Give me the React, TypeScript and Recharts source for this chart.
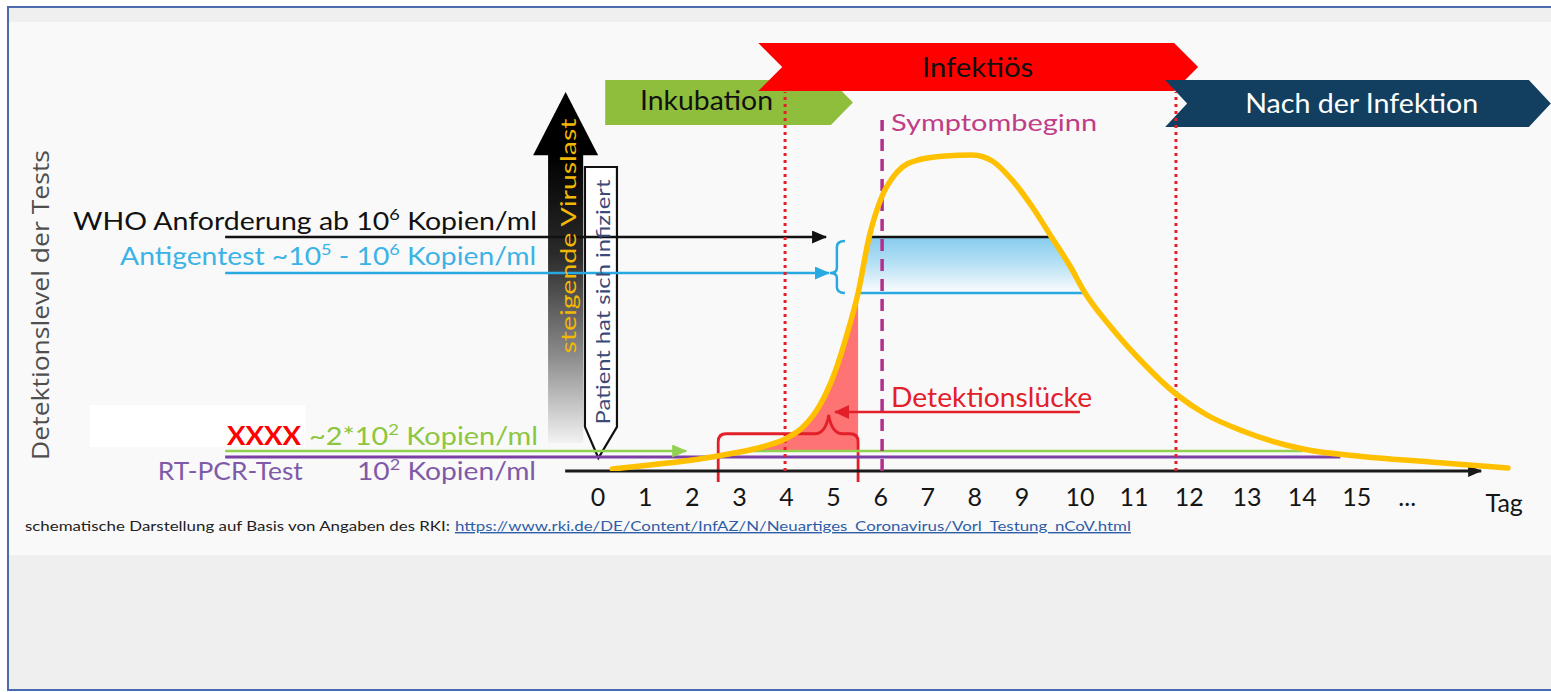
import {
  ComposedChart,
  Line,
  Area,
  XAxis,
  YAxis,
  ReferenceLine,
  ReferenceArea,
  ReferenceDot,
} from "recharts";

// schematic day axis: days 0-9 are evenly spaced, after that the picture stretches
const tickLabels = ["0", "1", "2", "3", "4", "5", "6", "7", "8", "9", "10", "11", "12", "13", "14", "15", "...", "Tag"];
const tickPos = [0, 1, 2, 3, 4, 5, 6, 7, 8, 9, 10.23, 11.38, 12.55, 13.78, 14.95, 16.11, 17.18, 19.24];

// viral load curve (arbitrary units)
const curvePos = [0.3, 1.1, 2.01, 2.54, 3.01, 3.48, 3.97, 4.35, 4.71, 5.03, 5.28, 5.52, 5.75, 6.03, 6.35, 6.79, 7.37, 7.94, 8.37, 8.79, 9.22, 9.64, 10.02, 10.34, 10.87, 11.51, 12.27, 12.89, 13.74, 14.97, 16.12, 17.67, 19.32];
const viralLoad = [0.5, 1.5, 2.75, 3.75, 4.75, 6, 8, 11, 16.5, 24.75, 34, 44.5, 58.25, 68.75, 74.75, 77.75, 78.75, 79, 77.5, 72.75, 66, 58.25, 51.25, 44.5, 36.25, 27.75, 19.25, 14.25, 9.75, 5.5, 3.75, 2.25, 0.75];

// detection levels
const whoLevel = 58.5;
const antigenArrowLevel = 49.5;
const antigenLow = 44.5;
const greenLevel = 5;
const purpleLevel = 3.5;

// detection gap & antigen band
const gapStart = 3.01;
const gapEnd = 5.52;
const bandPos = [5.52, 5.75, 9.64, 10.34];

// phases
const infectiousStart = 3.97;
const symptomOnset = 6.03;
const infectiousEnd = 12.27;

const curve = curvePos.map((pos, i) => ({
  pos,
  load: viralLoad[i],
  gap: pos >= gapStart && pos <= gapEnd ? viralLoad[i] : null,
}));

const band = bandPos.map((pos, i) => ({
  pos,
  band: [antigenLow, i === 0 || i === bandPos.length - 1 ? antigenLow : whoLevel],
}));

const FONT = "Lato, 'Open Sans', sans-serif";

const DayTick = (props: any) => {
  const { x, y, payload } = props;
  const i = tickPos.indexOf(payload.value);
  const label = tickLabels[i];
  const isTag = label === "Tag";
  return (
    <text x={x} y={y + (isTag ? 41 : 35)} textAnchor="middle" fontFamily={FONT} fontSize={25} fill="#151515">
      {label}
    </text>
  );
};

const chevron = (fill: string, notch: number, tip: number) => (p: any) => {
  const { x, y, width: w, height: h } = p;
  const m = y + h / 2;
  const pts = [
    [x, y],
    [x + w - tip, y],
    [x + w, m],
    [x + w - tip, y + h],
    [x, y + h],
    [x + notch, m],
  ];
  return <polygon points={pts.map((q) => q.join(",")).join(" ")} fill={fill} />;
};

const viralArrow = (p: any) => {
  const { x, y, width: w, height: h } = p;
  const headH = h * 0.18;
  const sl = x + w * 0.23;
  const sr = x + w * 0.77;
  return (
    <g>
      <rect x={sl} y={y + headH - 1} width={sr - sl} height={h - headH + 1} fill="url(#shaftGrad)" />
      <polygon points={`${x + w / 2},${y} ${x + w},${y + headH} ${x},${y + headH}`} fill="#000" />
    </g>
  );
};

const pin = (p: any) => {
  const { x, y, width: w, height: h } = p;
  const body = y + h * 0.893;
  const tipX = x + w * 0.42;
  return (
    <path
      d={`M${x},${y} H${x + w} V${body} L${tipX},${y + h} L${x},${body} Z`}
      fill="#fff"
      stroke="#111"
      strokeWidth={2.2}
    />
  );
};

const whiteBox = (p: any) => <rect x={p.x} y={p.y} width={p.width} height={p.height} fill="#fff" />;

const redBrace = (p: any) => {
  const { x, y, width: w, height: h } = p;
  const hy = y + h * 0.28;
  const px = x + w * 0.79;
  const r = 8;
  const d = `M${x},${y + h} V${hy + r} Q${x},${hy} ${x + r},${hy} H${px - 14} Q${px - 3},${hy} ${px},${y} Q${px + 3},${hy} ${px + 14},${hy} H${x + w - r} Q${x + w},${hy} ${x + w},${hy + r} V${y + h}`;
  return <path d={d} fill="none" stroke="#e3202a" strokeWidth={2.8} />;
};

const blueBracket = (p: any) => {
  const { x, y, width: w, height: h } = p;
  const my = y + h * 0.615;
  const xv = x + w * 0.47;
  const d = `M${x + w},${y} Q${xv},${y} ${xv},${y + 6} V${my - 5} Q${xv},${my} ${x},${my} Q${xv},${my} ${xv},${my + 5} V${y + h - 6} Q${xv},${y + h} ${x + w},${y + h}`;
  return <path d={d} fill="none" stroke="#29a9e1" strokeWidth={2.5} />;
};

const seg = (
  key: string,
  x1: number,
  x2: number,
  y1: number,
  y2: number,
  stroke: string,
  width: number,
  dash?: string,
  marker?: string
) => (
  <ReferenceLine
    key={key}
    segment={[{ x: x1, y: y1 }, { x: x2, y: y2 }]}
    ifOverflow="visible"
    shape={(p: any) => (
      <line
        x1={p.x1}
        y1={p.y1}
        x2={p.x2}
        y2={p.y2}
        stroke={stroke}
        strokeWidth={width}
        strokeDasharray={dash}
        markerEnd={marker ? `url(#${marker})` : undefined}
      />
    )}
  />
);

const note = (key: string, x: number, y: number, draw: (cx: number, cy: number) => any) => (
  <ReferenceDot
    key={key}
    x={x}
    y={y}
    r={1}
    ifOverflow="visible"
    fill="none"
    stroke="none"
    shape={(p: any) => draw(p.cx, p.cy)}
  />
);

const arrowMarker = (id: string, color: string, len: number, half: number) => (
  <marker
    id={id}
    viewBox={`0 0 ${len} ${half * 2}`}
    refX={len - 1}
    refY={half}
    markerWidth={len}
    markerHeight={half * 2}
    markerUnits="userSpaceOnUse"
    orient="auto"
  >
    <path d={`M0,0 L${len},${half} L0,${half * 2} z`} fill={color} />
  </marker>
);

export default function App() {
  return (
    <div style={{ position: "absolute", left: 0, top: 0, width: 1551, height: 692, background: "#fff" }}>
      <div
        style={{
          position: "absolute",
          left: 7,
          top: 6,
          width: 1544,
          height: 685,
          boxSizing: "border-box",
          borderTop: "2px solid #4a6bad",
          borderLeft: "2px solid #4a6bad",
          borderBottom: "2px solid #4a6bad",
          background: "#efefef",
        }}
      />
      <div style={{ position: "absolute", left: 9, top: 22, width: 1542, height: 533, background: "#f9f9f9" }} />
      <div style={{ position: "absolute", left: 0, top: 0 }}>
        <ComposedChart width={1551} height={692} data={curve} margin={{ top: 31, right: 11, bottom: 191, left: 33 }}>
          <defs>
            <linearGradient id="bandGrad" x1="0" y1="0" x2="0" y2="1">
              <stop offset="0%" stopColor="#38ade6" />
              <stop offset="50%" stopColor="#8ed2f2" />
              <stop offset="100%" stopColor="#ffffff" />
            </linearGradient>
            <linearGradient id="shaftGrad" x1="0" y1="0" x2="0" y2="1">
              <stop offset="0%" stopColor="#000" />
              <stop offset="35%" stopColor="#2b2b2b" />
              <stop offset="70%" stopColor="#8c8c8c" />
              <stop offset="100%" stopColor="#f2f2f2" />
            </linearGradient>
            {arrowMarker("arrBlack", "#111", 15, 6.5)}
            {arrowMarker("arrBlue", "#29a9e1", 15, 6.5)}
            {arrowMarker("arrGreen", "#92d050", 15, 6.5)}
            {arrowMarker("arrRed", "#e3202a", 15, 7)}
            {arrowMarker("arrAxis", "#1a1a1a", 14, 6)}
          </defs>

          <XAxis
            dataKey="pos"
            type="number"
            domain={[-12, 20]}
            allowDataOverflow
            ticks={tickPos}
            interval={0}
            axisLine={false}
            tickLine={false}
            tickSize={0}
            tickMargin={0}
            height={30}
            tick={DayTick}
          />
          <YAxis type="number" domain={[0, 110]} allowDataOverflow hide />

          {/* phase banners */}
          <ReferenceArea x1={0.15} x2={5.41} y1={86.5} y2={97.75} ifOverflow="visible" shape={chevron("#8fbe3c", 0, 22)} />
          <ReferenceArea x1={3.4} x2={12.74} y1={95} y2={107} ifOverflow="visible" shape={chevron("#ff0000", 24, 24)} />
          <ReferenceArea x1={12.04} x2={20.23} y1={86} y2={97.75} ifOverflow="visible" shape={chevron("#123f60", 22, 22)} />

          {/* blank box behind the red label */}
          <ReferenceArea x1={-10.79} x2={-6.22} y1={6} y2={16.5} ifOverflow="visible" shape={whiteBox} />

          {/* rising viral load arrow and infection pin */}
          <ReferenceArea x1={-1.38} x2={0} y1={7} y2={94.75} ifOverflow="visible" shape={viralArrow} />
          <ReferenceArea x1={-0.28} x2={0.4} y1={3.25} y2={76} ifOverflow="visible" shape={pin} />

          <Area
            data={band}
            dataKey="band"
            type="linear"
            stroke="none"
            fill="url(#bandGrad)"
            isAnimationActive={false}
          />
          <Area
            dataKey="gap"
            type="monotone"
            baseValue={greenLevel}
            stroke="none"
            fill="#ff5c5c"
            fillOpacity={0.85}
            connectNulls={false}
            isAnimationActive={false}
          />

          {seg("who", -7.92, 4.84, whoLevel, whoLevel, "#111", 2.5, undefined, "arrBlack")}
          {seg("whoBand", 5.75, 9.64, whoLevel, whoLevel, "#111", 2.5)}
          {seg("ag", -7.92, 4.9, antigenArrowLevel, antigenArrowLevel, "#29a9e1", 2.5, undefined, "arrBlue")}
          {seg("agBand", 5.52, 10.34, antigenLow, antigenLow, "#29a9e1", 2.5)}
          {seg("purple", -7.92, 15.76, purpleLevel, purpleLevel, "#7b3fa6", 3)}
          {seg("green1", -7.92, 1.87, greenLevel, greenLevel, "#92d050", 2.5, undefined, "arrGreen")}
          {seg("green2", 2.97, 14.97, greenLevel, greenLevel, "#92d050", 2.5)}
          {seg("axis", -0.7, 18.75, 0, 0, "#1a1a1a", 3, undefined, "arrAxis")}
          {seg("inf1", infectiousStart, infectiousStart, 0, 94.75, "#e3202a", 3, "3 4")}
          {seg("inf2", infectiousEnd, infectiousEnd, 0, 94.75, "#e3202a", 3, "3 4")}
          {seg("sym", symptomOnset, symptomOnset, 0, 87.75, "#b0308c", 3.5, "12 8")}
          {seg("gapArrow", 10.23, 5.03, 14.75, 14.75, "#e3202a", 2.5, undefined, "arrRed")}

          <ReferenceArea x1={4.92} x2={5.24} y1={44.5} y2={57.5} ifOverflow="visible" shape={blueBracket} />
          <ReferenceArea x1={2.55} x2={5.52} y1={-2.75} y2={14} ifOverflow="visible" shape={redBrace} />

          <Line
            dataKey="load"
            type="monotone"
            stroke="#ffc000"
            strokeWidth={5.5}
            strokeLinecap="round"
            dot={false}
            activeDot={false}
            isAnimationActive={false}
          />

          {note("title", -11.85, 41.5, (cx, cy) => (
            <text x={cx} y={cy} transform={`rotate(-90 ${cx} ${cy})`} textAnchor="middle" dominantBaseline="central"
              fontFamily="'Open Sans', sans-serif" fontSize={23} fill="#4e4e4e" textLength={310} lengthAdjust="spacingAndGlyphs">
              Detektionslevel der Tests
            </text>
          ))}
          {note("who", -11.15, 60.25, (cx, cy) => (
            <text x={cx} y={cy} fontFamily={FONT} fontSize={25} fill="#111" textLength={464} lengthAdjust="spacingAndGlyphs">
              WHO Anforderung ab 10<tspan dy={-10} fontSize={16}>6</tspan>
              <tspan dy={10}>{" Kopien/ml"}</tspan>
            </text>
          ))}
          {note("ag", -10.15, 51.5, (cx, cy) => (
            <text x={cx} y={cy} fontFamily={FONT} fontSize={25} fill="#3bb3e6" textLength={416} lengthAdjust="spacingAndGlyphs">
              Antigentest ~10<tspan dy={-10} fontSize={16}>5</tspan>
              <tspan dy={10}>{" - 10"}</tspan>
              <tspan dy={-10} fontSize={16}>6</tspan>
              <tspan dy={10}>{" Kopien/ml"}</tspan>
            </text>
          ))}
          {note("xxxx", -7.88, 6.5, (cx, cy) => (
            <text x={cx} y={cy} fontFamily={FONT} fontWeight={700} fontSize={27} fill="#ff0000" textLength={74} lengthAdjust="spacingAndGlyphs">
              XXXX
            </text>
          ))}
          {note("green", -6.14, 6.5, (cx, cy) => (
            <text x={cx} y={cy} fontFamily={FONT} fontSize={25} fill="#8dc63f" textLength={229} lengthAdjust="spacingAndGlyphs">
              ~2*10<tspan dy={-10} fontSize={16}>2</tspan>
              <tspan dy={10}>{" Kopien/ml"}</tspan>
            </text>
          ))}
          {note("rt", -9.35, -2.25, (cx, cy) => (
            <text x={cx} y={cy} fontFamily={FONT} fontSize={25} fill="#7f5aa8" textLength={145} lengthAdjust="spacingAndGlyphs">
              RT-PCR-Test
            </text>
          ))}
          {note("rtLevel", -5.12, -2.25, (cx, cy) => (
            <text x={cx} y={cy} fontFamily={FONT} fontSize={25} fill="#7f5aa8" textLength={179} lengthAdjust="spacingAndGlyphs">
              10<tspan dy={-10} fontSize={16}>2</tspan>
              <tspan dy={10}>{" Kopien/ml"}</tspan>
            </text>
          ))}
          {note("viral", -0.66, 58.75, (cx, cy) => (
            <text x={cx} y={cy} transform={`rotate(-90 ${cx} ${cy})`} textAnchor="middle" dominantBaseline="central"
              fontFamily={FONT} fontSize={22} fill="#f2b705" textLength={235} lengthAdjust="spacingAndGlyphs">
              steigende Viruslast
            </text>
          ))}
          {note("patient", 0.08, 42.25, (cx, cy) => (
            <text x={cx} y={cy} transform={`rotate(-90 ${cx} ${cy})`} textAnchor="middle" dominantBaseline="central"
              fontFamily={FONT} fontSize={20} fill="#3c4a78" textLength={245} lengthAdjust="spacingAndGlyphs">
              Patient hat sich infiziert
            </text>
          ))}
          {note("ink", 0.89, 90.25, (cx, cy) => (
            <text x={cx} y={cy} fontFamily={FONT} fontSize={26} fill="#111" textLength={133} lengthAdjust="spacingAndGlyphs">
              Inkubation
            </text>
          ))}
          {note("infekt", 6.88, 98.5, (cx, cy) => (
            <text x={cx} y={cy} fontFamily={FONT} fontSize={26} fill="#111" textLength={111} lengthAdjust="spacingAndGlyphs">
              Infektiös
            </text>
          ))}
          {note("nach", 13.74, 89.5, (cx, cy) => (
            <text x={cx} y={cy} fontFamily={FONT} fontSize={26} fill="#fff" textLength={233} lengthAdjust="spacingAndGlyphs">
              Nach der Infektion
            </text>
          ))}
          {note("symptom", 6.22, 85, (cx, cy) => (
            <text x={cx} y={cy} fontFamily={FONT} fontSize={23} fill="#c03d88" textLength={206} lengthAdjust="spacingAndGlyphs">
              Symptombeginn
            </text>
          ))}
          {note("gap", 6.22, 16, (cx, cy) => (
            <text x={cx} y={cy} fontFamily={FONT} fontSize={26} fill="#e3202a" textLength={201} lengthAdjust="spacingAndGlyphs">
              Detektionslücke
            </text>
          ))}
          {note("source", -12.17, -15, (cx, cy) => (
            <text x={cx} y={cy} fontFamily={FONT} fontSize={14} fill="#222" textLength={425} lengthAdjust="spacingAndGlyphs">
              schematische Darstellung auf Basis von Angaben des RKI:
            </text>
          ))}
          {note("link", -3.04, -15, (cx, cy) => (
            <text x={cx} y={cy} fontFamily={FONT} fontSize={14} fill="#2f5ea8" textDecoration="underline" textLength={676} lengthAdjust="spacingAndGlyphs">
              https://www.rki.de/DE/Content/InfAZ/N/Neuartiges_Coronavirus/Vorl_Testung_nCoV.html
            </text>
          ))}
        </ComposedChart>
      </div>
    </div>
  );
}
